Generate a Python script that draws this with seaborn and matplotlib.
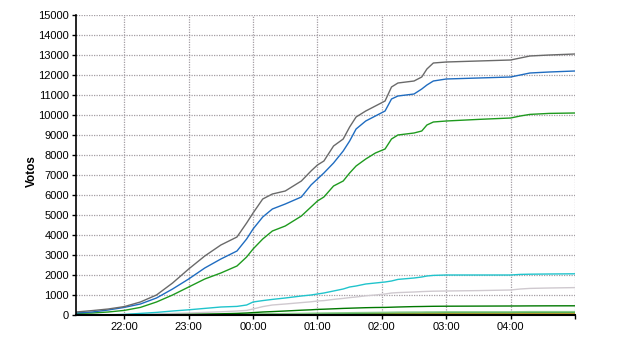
import matplotlib
matplotlib.use("Agg")
import matplotlib.pyplot as plt
import seaborn as sns
import pandas as pd
from matplotlib.ticker import FixedLocator, FuncFormatter

# time of day in hours (24+ = after midnight)
hours = [21.25, 21.5, 21.75, 22.0, 22.25, 22.5, 22.75, 23.0, 23.25, 23.5,
         23.75, 23.9, 24.0, 24.15, 24.3, 24.5, 24.75, 24.9, 25.0, 25.1,
         25.25, 25.4, 25.5, 25.6, 25.75, 25.9, 26.05, 26.15, 26.25, 26.5,
         26.62, 26.7, 26.8, 27.0, 27.5, 28.0, 28.15, 28.3, 28.6, 29.0]

grey_votes = [150, 220, 300, 420, 650, 1000, 1600, 2300, 2950, 3500,
              3900, 4600, 5100, 5800, 6050, 6200, 6700, 7200, 7500, 7700,
              8450, 8800, 9400, 9900, 10200, 10450, 10700, 11400, 11600, 11700,
              11900, 12300, 12600, 12650, 12700, 12750, 12850, 12950, 13000, 13050]
blue_votes = [100, 150, 250, 380, 550, 850, 1300, 1800, 2350, 2800,
              3200, 3800, 4300, 4900, 5300, 5550, 5900, 6500, 6800, 7100,
              7600, 8200, 8700, 9300, 9700, 9950, 10200, 10800, 10950, 11050,
              11300, 11500, 11700, 11800, 11850, 11900, 12000, 12100, 12150, 12200]
green_votes = [80, 100, 150, 230, 380, 650, 1000, 1400, 1800, 2100,
               2450, 2900, 3300, 3800, 4200, 4450, 4950, 5400, 5700, 5900,
               6450, 6700, 7100, 7450, 7800, 8100, 8300, 8800, 9000, 9100,
               9200, 9500, 9650, 9700, 9780, 9850, 9950, 10030, 10080, 10100]
cyan_votes = [0, 0, 10, 30, 80, 130, 200, 260, 330, 400,
              430, 500, 650, 720, 780, 850, 950, 1000, 1050, 1100,
              1200, 1300, 1400, 1450, 1550, 1600, 1650, 1700, 1780, 1850,
              1900, 1950, 1980, 2000, 2000, 2000, 2030, 2040, 2050, 2060]
silver_votes = [0, 0, 10, 20, 40, 60, 80, 100, 130, 160,
                200, 230, 300, 420, 500, 550, 620, 660, 700, 720,
                780, 830, 870, 900, 960, 1000, 1050, 1100, 1120, 1150,
                1170, 1180, 1190, 1200, 1220, 1250, 1300, 1330, 1350, 1370]
darkgreen_votes = [0, 0, 0, 5, 10, 15, 20, 30, 45, 60,
                   80, 100, 120, 150, 170, 200, 240, 260, 280, 290,
                   310, 330, 340, 350, 365, 375, 380, 390, 400, 420,
                   425, 430, 435, 440, 445, 450, 452, 455, 458, 460]
lightgreen_votes = [0, 0, 0, 0, 5, 8, 10, 15, 20, 25,
                    30, 35, 40, 50, 60, 70, 80, 90, 95, 100,
                    105, 110, 115, 120, 125, 130, 135, 140, 145, 150,
                    150, 155, 155, 160, 160, 160, 165, 170, 170, 170]
medgreen_votes = [0, 0, 0, 0, 2, 4, 6, 8, 10, 15,
                  20, 25, 30, 35, 40, 45, 50, 55, 60, 65,
                  70, 75, 80, 85, 90, 95, 100, 100, 105, 105,
                  110, 110, 110, 115, 115, 115, 120, 120, 120, 120]
orange_votes = [0, 0, 0, 0, 2, 4, 6, 8, 10, 12,
                15, 18, 20, 24, 28, 32, 36, 40, 44, 48,
                52, 56, 60, 64, 68, 70, 72, 74, 76, 78,
                80, 80, 82, 82, 84, 85, 86, 88, 88, 90]
red_votes = [0, 0, 0, 0, 1, 1, 2, 3, 4, 5,
             6, 7, 8, 9, 10, 12, 14, 16, 18, 20,
             22, 24, 26, 28, 30, 32, 34, 35, 36, 37,
             38, 38, 39, 39, 40, 40, 40, 41, 41, 42]

series = {
    "silver": (silver_votes, "#cfc9cf"),
    "red": (red_votes, "#e02010"),
    "orange": (orange_votes, "#f0a020"),
    "medgreen": (medgreen_votes, "#44a844"),
    "lightgreen": (lightgreen_votes, "#88cc88"),
    "darkgreen": (darkgreen_votes, "#007800"),
    "cyan": (cyan_votes, "#20c4cc"),
    "green": (green_votes, "#1e9a1e"),
    "blue": (blue_votes, "#1f6cc0"),
    "grey": (grey_votes, "#6a6a6a"),
}

rows = []
for name, (vals, _) in series.items():
    for h, v in zip(hours, vals):
        rows.append({"hour": h, "votes": v, "party": name})
df = pd.DataFrame(rows)
palette = {k: c for k, (_, c) in series.items()}

sns.set_theme(style="white")
plt.rcParams["font.family"] = ["Liberation Sans", "DejaVu Sans"]

fig = plt.figure(figsize=(6.4, 3.5), dpi=100)
ax = fig.add_axes([76 / 640, 1 - 315 / 350, (575 - 76) / 640, 300 / 350])

sns.lineplot(data=df, x="hour", y="votes", hue="party", palette=palette,
             hue_order=list(series.keys()), linewidth=1.0, legend=False, ax=ax)

ax.set_xlim(21.25, 29.0)
ax.set_ylim(0, 15000)
ax.yaxis.set_major_locator(FixedLocator(range(0, 15001, 1000)))
ax.xaxis.set_major_locator(FixedLocator([22, 23, 24, 25, 26, 27, 28, 29]))
ax.xaxis.set_major_formatter(FuncFormatter(
    lambda v, p: "" if v >= 29 else f"{int(v) % 24:02d}:00"))
ax.grid(True, color="#a49ea4", linestyle=(0, (1, 1)), linewidth=0.9)
ax.set_axisbelow(True)
for s in ["top", "right"]:
    ax.spines[s].set_visible(False)
ax.spines["left"].set_color("black")
ax.spines["left"].set_linewidth(1.2)
ax.spines["bottom"].set_color("black")
ax.spines["bottom"].set_linewidth(1.5)
ax.tick_params(axis="both", which="major", direction="out", length=3,
               width=1, color="black", labelsize=8, pad=2, labelcolor="black",
               left=True, bottom=True)
ax.set_xlabel("")
ax.set_ylabel("Votos", fontsize=8.5, fontweight="bold", color="black")
ax.yaxis.set_label_coords(-0.076, 0.48)

fig.savefig("out.png", dpi=100)
